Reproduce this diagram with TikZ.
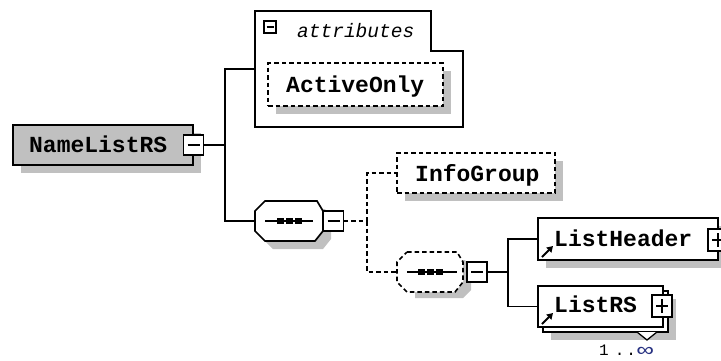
\documentclass[tikz,border=0pt]{standalone}
\usepackage{fontspec}
\newfontfamily\lmono{Liberation Mono}
\usetikzlibrary{shadows,calc,arrows.meta}
\definecolor{boxgray}{RGB}{192,192,192}
\definecolor{shgray}{RGB}{192,192,192}
\definecolor{infblue}{RGB}{40,50,130}
\tikzset{
  conn/.style={line width=1.7pt},
  dconn/.style={line width=1.6pt, dash pattern=on 4.5pt off 3pt},
  sh/.style={drop shadow={shadow xshift=8pt,shadow yshift=-8pt,fill=shgray,opacity=1}},
  elembox/.style={draw, line width=1.8pt, fill=white, rectangle, inner sep=0pt, outer sep=0pt},
  dashbox/.style={elembox, line width=1.6pt, dash pattern=on 4.5pt off 3pt},
  ghost/.style={rectangle, inner sep=0pt, outer sep=0pt},
  pmbox/.style={draw, line width=1.6pt, fill=white, rectangle, inner sep=0pt, outer sep=0pt,
    minimum width=20pt, minimum height=20pt},
  minusbox/.style={pmbox, path picture={\draw[line width=1.4pt]
    ([xshift=4pt]path picture bounding box.west) -- ([xshift=-4pt]path picture bounding box.east);}},
  plusbox/.style={pmbox, path picture={\draw[line width=1.4pt]
    ([xshift=4pt]path picture bounding box.west) -- ([xshift=-4pt]path picture bounding box.east)
    ([yshift=-4pt]path picture bounding box.north) -- ([yshift=4pt]path picture bounding box.south);}},
  lbl/.style={inner sep=0pt, anchor=base west, font=\lmono\bfseries\fontsize{23}{23}\selectfont},
  reficon/.style={line width=2pt, -{Triangle[length=6pt,width=7pt]}},
}
\begin{document}
\begin{tikzpicture}[x=1pt,y=-1pt]
\clip (0,0) rectangle (721,360);
\fill[white] (0,0) rectangle (721,360);

% root element
\node[elembox, fill=boxgray, sh, minimum width=180pt, minimum height=40pt] (nl) at (103,145) {};
\node[lbl] (nlt) at (29,152) {NameListRS};
\node[minusbox] (nlm) at (193.5,145) {};
\coordinate (j1) at (225,145);

% attributes group
\draw[line width=1.7pt, fill=white] (255,11) -- (431,11) -- (431,51) -- (463,51) -- (463,127) -- (255,127) -- cycle;
\coordinate (attrin) at (255,69);
\node[draw, line width=1.2pt, fill=white, inner sep=0pt, minimum width=12pt, minimum height=12pt,
  path picture={\draw[line width=1.2pt] ([xshift=2.5pt]path picture bounding box.west) -- ([xshift=-2.5pt]path picture bounding box.east);}]
  (am) at (270,27) {};
\node[inner sep=0pt, anchor=base west, font=\lmono\itshape\fontsize{19.5}{19.5}\selectfont] (att) at (297,37) {attributes};
\node[dashbox, sh, minimum width=175pt, minimum height=43pt] (ao) at (355.5,84.5) {};
\node[lbl] (aot) at (286,92) {ActiveOnly};

% connectors from root
\draw[conn] (nlm.east) -- (j1);
\draw[conn] (j1) |- (attrin);

% sequence 1
\node[ghost, minimum width=68pt, minimum height=40pt] (o1) at (289,221) {};
\draw[line width=1.7pt, fill=white, sh]
  ([xshift=10pt]o1.north west) -- ([xshift=-6pt]o1.north east) -- ([yshift=-10pt]o1.north east)
  -- ([yshift=10pt]o1.south east) -- ([xshift=-8pt]o1.south east) -- ([xshift=10pt]o1.south west)
  -- ([yshift=10pt]o1.south west) -- ([yshift=-10pt]o1.north west) -- cycle;
\draw[line width=1.5pt] ([xshift=10pt]o1.west) -- ([xshift=-10pt]o1.east);
\foreach \d in {-9,0,9} \fill ([xshift=\d pt]o1.center) ++(-3.5,-3) rectangle ++(7,6);
\node[minusbox] (m1) at (333.5,221) {};
\draw[conn] (j1) |- (o1.west);

% choice branch (dashed)
\coordinate (j2) at (367,221);
\draw[dconn] (m1.east) -- (j2);
\node[dashbox, sh, minimum width=158pt, minimum height=40pt] (ig) at (476,173) {};
\node[lbl] (igt) at (415,181) {InfoGroup};
\draw[dconn] (j2) |- (ig.west);

% sequence 2 (optional, dashed)
\node[ghost, minimum width=66pt, minimum height=40pt] (o2) at (430,272) {};
\fill[shgray] ([xshift=18pt,yshift=-8pt]o2.north west) -- ([xshift=2pt,yshift=-8pt]o2.north east) -- ([xshift=8pt,yshift=-18pt]o2.north east)
  -- ([xshift=8pt,yshift=2pt]o2.south east) -- ([xshift=0pt,yshift=-6pt]o2.south east) -- ([xshift=18pt,yshift=-6pt]o2.south west) -- cycle;
\draw[dconn, fill=white]
  ([xshift=10pt]o2.north west) -- ([xshift=-6pt]o2.north east) -- ([yshift=-10pt]o2.north east)
  -- ([yshift=10pt]o2.south east) -- ([xshift=-8pt]o2.south east) -- ([xshift=10pt]o2.south west)
  -- ([yshift=10pt]o2.south west) -- ([yshift=-10pt]o2.north west) -- cycle;
\draw[line width=1.5pt] ([xshift=10pt]o2.west) -- ([xshift=-6pt]o2.east);
\foreach \d in {-9,0,9} \fill ([xshift=\d pt]o2.center) ++(-3.5,-3) rectangle ++(7,6);
\node[minusbox] (m2) at (477,272) {};
\draw[dconn] (j2) |- (o2.west);
\coordinate (j3) at (508,272);
\draw[conn] (m2.east) -- (j3);

% ListHeader
\node[elembox, sh, minimum width=180pt, minimum height=42pt] (lh) at (628,239) {};
\node[lbl] (lht) at (554,246) {ListHeader};
\node[plusbox, minimum height=22pt] (lhp) at (718,240) {};
\draw[reficon] ([xshift=4pt,yshift=3pt]lh.south west) -- ++(11,-11);
\draw[conn] (j3) |- (lh.west);

% ListRS (repeating)
\node[elembox, sh, minimum width=125pt, minimum height=41pt] (lrb) at (605.5,311.5) {};
\node[elembox, minimum width=125pt, minimum height=41pt] (lr) at (600.5,306.5) {};
\node[lbl] (lrt) at (554,312) {ListRS};
\node[plusbox, minimum height=22pt] (lrp) at (662,306) {};
\draw[reficon] ([xshift=4pt,yshift=3pt]lr.south west) -- ++(11,-11);
\draw[conn] (j3) |- (lr.west);
\coordinate (tri) at (647,332);
\draw[line width=1.3pt, fill=white] ([xshift=-10pt]tri) -- ++(10,8) -- ++(10,-8);
\node[inner sep=0pt, anchor=base west, font=\lmono\fontsize{16}{16}\selectfont] (card) at (599,355)
  {1\kern6pt.\kern2pt.\kern1pt{\color{infblue}\raisebox{-1pt}{\scalebox{1.7}[1.2]{∞}}}};
\end{tikzpicture}
\end{document}
